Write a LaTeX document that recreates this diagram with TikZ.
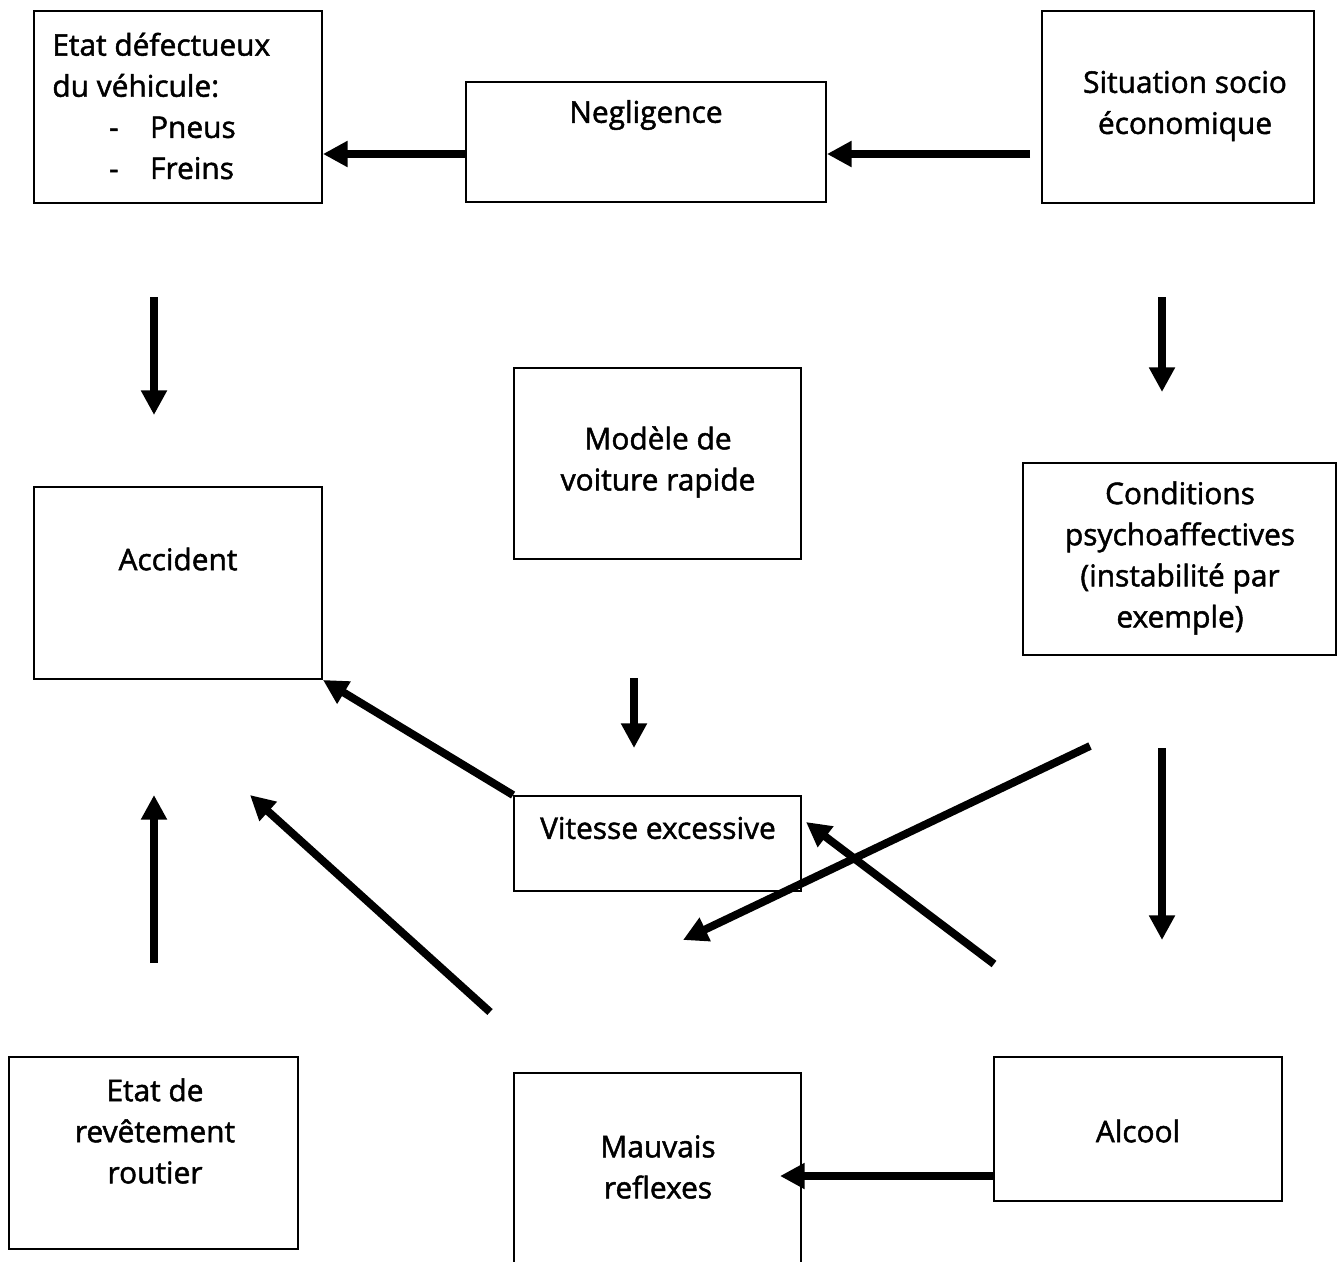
\documentclass[tikz,border=0pt]{standalone}
\usepackage{fontspec}
\setmainfont{Open Sans}[FakeBold=1.6]
\usepackage{tikz}
\usetikzlibrary{arrows.meta}
\tikzstyle{box}=[draw,line width=1.1pt,inner sep=0pt]
\tikzstyle{txt}=[font=\fontsize{17}{23.4}\selectfont,align=center,inner sep=0pt]
\tikzstyle{arr}=[line width=4.5pt,-{Triangle[length=14pt,width=14pt]}]

\begin{document}
\begin{tikzpicture}[x=0.02cm,y=-0.02cm]
    \useasboundingbox (0,0) rectangle (1337,1261);
    % boites
    \node[box,minimum width=5.76cm,minimum height=3.84cm] (etat) at (178,107) {};
    \node[box,minimum width=7.2cm,minimum height=2.4cm] (negl) at (646,142) {};
    \node[box,minimum width=5.44cm,minimum height=3.84cm] (situ) at (1178,107) {};
    \node[box,minimum width=5.74cm,minimum height=3.82cm] (modele) at (657.5,463.5) {};
    \node[box,minimum width=5.76cm,minimum height=3.84cm] (acc) at (178,583) {};
    \node[box,minimum width=6.26cm,minimum height=3.84cm] (cond) at (1179.5,559) {};
    \node[box,minimum width=5.74cm,minimum height=1.9cm] (vit) at (657.5,843.5) {};
    \node[box,minimum width=5.78cm,minimum height=3.84cm] (revet) at (153.5,1153) {};
    \node[box,minimum width=5.74cm,minimum height=3.84cm] (mauv) at (657.5,1169) {};
    \node[box,minimum width=5.76cm,minimum height=2.88cm] (alc) at (1138,1129) {};
    % textes
    \node[txt,align=left,anchor=west] (etat-t) at (52,106) {Etat défectueux\\du véhicule:\\\hspace*{1.9em}-\hspace*{1.05em}Pneus\\\hspace*{1.9em}-\hspace*{1.05em}Freins};
    \node[txt] (negl-t) at (646,115) {Negligence};
    \node[txt] (situ-t) at (1185,106) {Situation socio\\économique};
    \node[txt] (modele-t) at (658,462) {Modèle de\\voiture rapide};
    \node[txt] (acc-t) at (178,559) {Accident};
    \node[txt] (cond-t) at (1180,558) {Conditions\\psychoaffectives\\(instabilité par\\exemple)};
    \node[txt] (vit-t) at (658,828) {Vitesse excessive};
    \node[txt] (revet-t) at (155,1131) {Etat de\\revêtement\\routier};
    \node[txt] (mauv-t) at (658,1167) {Mauvais\\reflexes};
    \node[txt] (alc-t) at (1138,1131) {Alcool};
    % extremites libres
    \coordinate (n1) at ([yshift=-0.24cm]negl.west);
    \coordinate (s1) at (1030,154);
    \coordinate (e1) at (154,297);
    \coordinate (e2) at (154,415);
    \coordinate (c1) at (1162,297);
    \coordinate (c2) at (1162,392);
    \coordinate (m1) at (634,678);
    \coordinate (m2) at (634,748);
    \coordinate (p1) at (1162,748);
    \coordinate (p2) at (1162,940);
    \coordinate (r1) at (154,963);
    \coordinate (r2) at (154,795);
    \coordinate (f1) at (490,1012);
    \coordinate (f2) at (250,795);
    \coordinate (x1) at (1090,746);
    \coordinate (x2) at (683,940);
    \coordinate (y1) at (994,964);
    \coordinate (y2) at (806,822);
    \coordinate (a1) at ([yshift=-0.94cm]alc.west);
    \coordinate (a2) at (780,1176);
    % fleches
    \draw[arr] (n1) -- (n1 -| etat.east);
    \draw[arr] (s1) -- (s1 -| negl.east);
    \draw[arr] (e1) -- (e2);
    \draw[arr] (c1) -- (c2);
    \draw[arr] (m1) -- (m2);
    \draw[arr] (p1) -- (p2);
    \draw[arr] (r1) -- (r2);
    \draw[arr] (vit.north west) -- (acc.south east);
    \draw[arr] (f1) -- (f2);
    \draw[arr] (x1) -- (x2);
    \draw[arr] (y1) -- (y2);
    \draw[arr] (a1) -- (a2);
\end{tikzpicture}
\end{document}
